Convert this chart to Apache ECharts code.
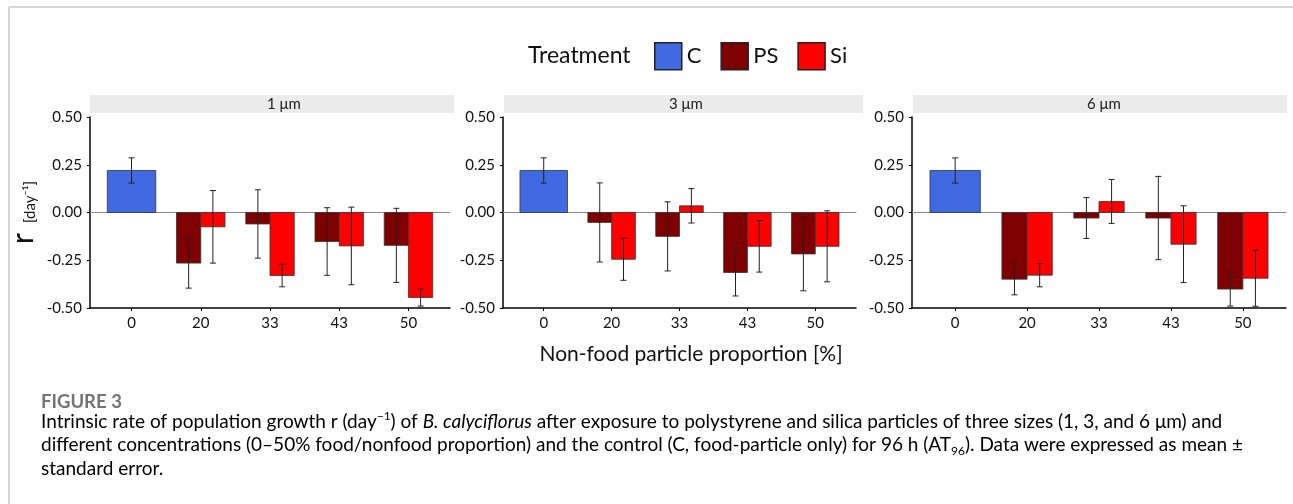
<!DOCTYPE html>
<html><head><meta charset="utf-8">
<script src="https://cdn.jsdelivr.net/npm/echarts@6/dist/echarts.min.js"></script>
<style>html,body{margin:0;padding:0;background:#fff}#c{width:1293px;height:504px}</style>
</head><body><div id="c"></div>
<script>
// ---- data ----
const categories = ['0', '20', '33', '43', '50'];
const panels = ['1 μm', '3 μm', '6 μm'];
const treatments = ['C', 'PS', 'Si'];
const controlMean = [0.220, 0.220, 0.220];
const controlSE = [0.066, 0.066, 0.066];
// PS / Si values for categories 20, 33, 43, 50
const ps1Mean = [-0.265, -0.060, -0.152, -0.172];
const ps1SE   = [0.131, 0.179, 0.177, 0.194];
const si1Mean = [-0.075, -0.330, -0.175, -0.445];
const si1SE   = [0.190, 0.059, 0.203, 0.045];
const ps3Mean = [-0.052, -0.125, -0.314, -0.217];
const ps3SE   = [0.207, 0.181, 0.123, 0.193];
const si3Mean = [-0.245, 0.035, -0.177, -0.177];
const si3SE   = [0.110, 0.090, 0.135, 0.186];
const ps6Mean = [-0.349, -0.029, -0.029, -0.401];
const ps6SE   = [0.082, 0.107, 0.218, 0.089];
const si6Mean = [-0.328, 0.058, -0.166, -0.344];
const si6SE   = [0.061, 0.115, 0.201, 0.147];

const psMean = [ps1Mean, ps3Mean, ps6Mean];
const psSE = [ps1SE, ps3SE, ps6SE];
const siMean = [si1Mean, si3Mean, si6Mean];
const siSE = [si1SE, si3SE, si6SE];

// ---- styles ----
const FONT = 'Lato';
const colors = { C: '#4169E1', PS: '#7F0000', Si: '#FF0000' };
const grids = [
  { left: 90, top: 117, width: 360, height: 191 },
  { left: 503, top: 117, width: 353, height: 191 },
  { left: 912, top: 117, width: 374, height: 191 }
];
const strips = [
  { x: 90, w: 364, tx: 284 },
  { x: 504, w: 359, tx: 686 },
  { x: 913, w: 374, tx: 1104 }
];

function makeRender(offset, w) {
  return function (params, api) {
    const x = api.value(0) + offset, m = api.value(1), s = api.value(2);
    const a = api.coord([x - w / 2, m]);
    const b = api.coord([x + w / 2, 0]);
    const t = api.coord([x, m + s]);
    const d = api.coord([x, m - s]);
    const cap = 3;
    const col = api.visual('color');
    return {
      type: 'group',
      children: [
        { type: 'rect', shape: { x: a[0], y: Math.min(a[1], b[1]), width: b[0] - a[0], height: Math.abs(b[1] - a[1]) },
          style: { fill: col, stroke: '#333', lineWidth: 0.8 } },
        { type: 'line', shape: { x1: t[0], y1: t[1], x2: d[0], y2: d[1] }, style: { stroke: '#222', lineWidth: 1 } },
        { type: 'line', shape: { x1: t[0] - cap, y1: t[1], x2: t[0] + cap, y2: t[1] }, style: { stroke: '#222', lineWidth: 1 } },
        { type: 'line', shape: { x1: d[0] - cap, y1: d[1], x2: d[0] + cap, y2: d[1] }, style: { stroke: '#222', lineWidth: 1 } }
      ]
    };
  };
}

const xAxis = [], yAxis = [], series = [];
const tickVals = categories.map((c, i) => i);
panels.forEach((p, i) => {
  xAxis.push({
    gridIndex: i, type: 'value', min: -0.6, max: 4.6, position: 'bottom',
    axisLine: { onZero: false, lineStyle: { color: '#000', width: 1.5 } },
    axisTick: { show: true, customValues: tickVals, length: 3, lineStyle: { color: '#000' } },
    axisLabel: { customValues: tickVals, formatter: v => categories[Math.round(v)], fontSize: 15, color: '#111', margin: 8, fontFamily: FONT },
    splitLine: { show: false }
  });
  xAxis.push({
    gridIndex: i, type: 'value', min: -0.6, max: 4.6, position: 'bottom',
    axisLine: { onZero: true, lineStyle: { color: '#888', width: 1 } },
    axisTick: { show: false }, axisLabel: { show: false }, splitLine: { show: false }
  });
  const y = {
    gridIndex: i, type: 'value', min: -0.5, max: 0.5, interval: 0.25,
    axisLine: { show: true, onZero: false, lineStyle: { color: '#000', width: 1.5 } },
    axisTick: { show: true, length: 3, lineStyle: { color: '#000' } },
    axisLabel: { formatter: v => (Math.abs(v) < 1e-9 ? 0 : v).toFixed(2), fontSize: 15, color: '#111', margin: 8, fontFamily: FONT },
    splitLine: { show: false }
  };
  if (i === 0) {
    y.name = '{r|r}   {d|[day⁻¹]}';
    y.nameLocation = 'middle';
    y.nameRotate = 90;
    y.nameGap = 52;
    y.nameTextStyle = { rich: { r: { fontSize: 30, fontFamily: FONT, color: '#111' }, d: { fontSize: 15, fontFamily: FONT, color: '#111', verticalAlign: 'bottom' } } };
  }
  yAxis.push(y);

  series.push({
    type: 'custom', name: 'C', xAxisIndex: 2 * i, yAxisIndex: i,
    itemStyle: { color: colors.C }, renderItem: makeRender(0, 0.7), encode: { x: 0, y: 1 },
    data: [[0, controlMean[i], controlSE[i]]]
  });
  series.push({
    type: 'custom', name: 'PS', xAxisIndex: 2 * i, yAxisIndex: i,
    itemStyle: { color: colors.PS }, renderItem: makeRender(-0.175, 0.35), encode: { x: 0, y: 1 },
    data: psMean[i].map((m, k) => [k + 1, m, psSE[i][k]])
  });
  series.push({
    type: 'custom', name: 'Si', xAxisIndex: 2 * i, yAxisIndex: i,
    itemStyle: { color: colors.Si }, renderItem: makeRender(0.175, 0.35), encode: { x: 0, y: 1 },
    data: siMean[i].map((m, k) => [k + 1, m, siSE[i][k]])
  });
});

const CAP = '#747474';
const graphic = [
  { type: 'line', shape: { x1: 9, y1: 7, x2: 1293, y2: 7 }, style: { stroke: '#c8c8c8', lineWidth: 1.5 } },
  { type: 'line', shape: { x1: 9, y1: 7, x2: 9, y2: 504 }, style: { stroke: '#c8c8c8', lineWidth: 1.5 } },
  { type: 'text', x: 528, y: 56, style: { text: 'Treatment', fontSize: 23, fontFamily: FONT, fill: '#111', verticalAlign: 'middle' } },
  { type: 'text', x: 691, y: 354, style: { text: 'Non-food particle proportion [%]', fontSize: 21, fontFamily: FONT, fill: '#111', align: 'center', verticalAlign: 'middle' } },
  { type: 'text', x: 41, y: 402, style: { text: 'FIGURE 3', fontSize: 18.5, fontWeight: 'bold', fontFamily: FONT, fill: CAP, verticalAlign: 'middle' } },
  { type: 'text', x: 41, y: 410, style: {
      text: '{n|Intrinsic rate of population growth r (day}{sup|−1}{n|) of }{i|B. calyciflorus}{n| after exposure to polystyrene and silica particles of three sizes (1, 3, and 6 μm) and}\n' +
            '{n|different concentrations (0–50% food/nonfood proportion) and the control (C, food-particle only) for 96 h (AT}{sub|96}{n|). Data were expressed as mean ±}\n' +
            '{n|standard error.}',
      verticalAlign: 'top',
      rich: {
        n: { fontSize: 19, fontFamily: FONT, color: CAP, lineHeight: 23.5 },
        i: { fontSize: 19, fontFamily: FONT, fontStyle: 'italic', fontWeight: 'normal', color: CAP, lineHeight: 23.5 },
        sup: { fontSize: 12, fontFamily: FONT, color: CAP, lineHeight: 12, verticalAlign: 'top' },
        sub: { fontSize: 12, fontFamily: FONT, color: CAP, lineHeight: 12, verticalAlign: 'bottom' }
      }
  } }
];
strips.forEach((s, i) => {
  graphic.push({ type: 'rect', shape: { x: s.x, y: 95, width: s.w, height: 18 }, style: { fill: '#ebebeb' } });
  graphic.push({ type: 'text', x: s.tx, y: 104, style: { text: panels[i], fontSize: 15, fontFamily: FONT, fill: '#222', align: 'center', verticalAlign: 'middle' } });
});

const chart = echarts.init(document.getElementById('c'), null, { renderer: 'canvas' });
chart.setOption({
  animation: false,
  backgroundColor: '#fff',
  grid: grids,
  xAxis, yAxis, series,
  legend: {
    left: 654, top: 42, padding: 0, itemWidth: 27, itemHeight: 27, itemGap: 19, icon: 'rect', selectedMode: false,
    data: treatments,
    textStyle: { fontSize: 22, color: '#111', fontFamily: FONT },
    itemStyle: { borderColor: '#222', borderWidth: 1.5 }
  },
  graphic
});
</script></body></html>
